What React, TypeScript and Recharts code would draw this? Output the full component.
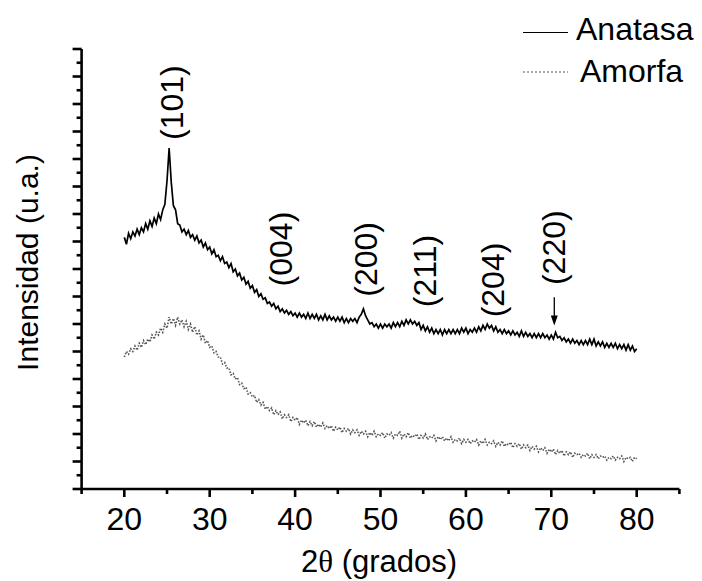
import { LineChart, Line, XAxis, YAxis, ReferenceDot, ReferenceLine, Legend } from 'recharts'

const FONT = '"Liberation Sans", Arial, sans-serif'

// 2θ sampling grid of the two scans
const START_ANGLE = 20
const STEP = 0.25

// Anatasa scan, every 0.25° from 20° to 80°
const anatasa = [
  18.3, 17.8, 18.6, 18.2, 18.7, 18.4, 18.9, 18.5, 19.0, 18.7, 19.3, 18.9,
  19.5, 19.1, 19.7, 19.3, 20.0, 19.6, 20.3, 20.7, 22.4, 24.8, 22.3, 20.6,
  20.3, 19.3, 19.2, 18.7, 18.9, 18.5, 18.8, 18.3, 18.5, 18.1, 18.4, 17.9,
  18.1, 17.6, 17.9, 17.4, 17.6, 17.1, 17.4, 16.9, 17.0, 16.6, 16.9, 16.4,
  16.5, 16.1, 16.4, 15.8, 16.0, 15.5, 15.7, 15.2, 15.4, 14.9, 15.1, 14.6,
  14.8, 14.3, 14.5, 14.0, 14.2, 13.8, 13.9, 13.5, 13.6, 13.3, 13.5, 13.1,
  13.3, 12.9, 13.1, 12.8, 13.0, 12.7, 12.9, 12.6, 12.8, 12.5, 12.8, 12.5,
  12.7, 12.4, 12.8, 12.4, 12.7, 12.4, 12.7, 12.3, 12.6, 12.3, 12.7, 12.3,
  12.6, 12.3, 12.5, 12.2, 12.5, 12.2, 12.5, 12.1, 12.4, 12.1, 12.4, 12.2,
  12.4, 12.1, 12.5, 12.7, 13.1, 12.6, 12.3, 12.0, 12.1, 11.8, 12.0, 11.7,
  12.0, 11.7, 12.0, 11.8, 12.0, 11.7, 12.1, 11.8, 12.1, 11.8, 12.2, 11.9,
  12.3, 12.0, 12.3, 12.0, 12.2, 11.9, 12.1, 11.6, 11.9, 11.5, 11.8, 11.4,
  11.7, 11.3, 11.6, 11.3, 11.6, 11.2, 11.6, 11.3, 11.6, 11.3, 11.6, 11.3,
  11.6, 11.3, 11.7, 11.4, 11.7, 11.3, 11.6, 11.4, 11.7, 11.4, 11.8, 11.5,
  11.9, 11.6, 12.0, 11.7, 11.9, 11.5, 11.8, 11.4, 11.6, 11.3, 11.6, 11.3,
  11.5, 11.2, 11.5, 11.2, 11.4, 11.1, 11.5, 11.1, 11.4, 11.1, 11.3, 11.0,
  11.3, 11.0, 11.3, 11.0, 11.3, 11.0, 11.2, 10.9, 11.2, 10.9, 11.4, 11.0,
  11.1, 10.8, 11.0, 10.7, 10.9, 10.6, 10.9, 10.6, 10.8, 10.5, 10.8, 10.5,
  10.8, 10.5, 10.9, 10.5, 10.9, 10.4, 10.7, 10.4, 10.7, 10.3, 10.6, 10.3,
  10.6, 10.3, 10.6, 10.2, 10.5, 10.2, 10.5, 10.1, 10.5, 10.1, 10.4, 10.0,
  10.2,
]

// Amorfa scan, same grid
const amorfa = [
  9.6, 10.0, 9.8, 10.2, 10.0, 10.4, 10.1, 10.6, 10.3, 10.8, 10.5, 10.9,
  10.7, 11.2, 10.9, 11.4, 11.2, 11.7, 11.4, 12.0, 11.7, 12.5, 12.0, 12.4,
  11.9, 12.5, 12.0, 12.3, 11.8, 12.2, 11.6, 12.0, 11.4, 11.8, 11.2, 11.5,
  10.9, 11.2, 10.6, 10.8, 10.3, 10.4, 9.9, 10.0, 9.6, 9.6, 9.1, 9.2,
  8.8, 8.8, 8.3, 8.4, 8.0, 8.1, 7.6, 7.7, 7.3, 7.4, 6.9, 7.0,
  6.7, 6.8, 6.3, 6.5, 6.1, 6.3, 5.8, 6.0, 5.7, 5.9, 5.4, 5.7,
  5.4, 5.6, 5.1, 5.4, 5.2, 5.4, 4.9, 5.2, 5.0, 5.2, 4.7, 5.0,
  4.8, 5.0, 4.6, 4.9, 4.6, 4.9, 4.5, 4.7, 4.5, 4.8, 4.4, 4.6,
  4.4, 4.6, 4.2, 4.5, 4.3, 4.5, 4.1, 4.4, 4.2, 4.4, 4.0, 4.3,
  4.1, 4.3, 3.9, 4.2, 4.0, 4.2, 3.8, 4.1, 3.9, 4.2, 3.8, 4.0,
  3.9, 4.1, 3.7, 4.0, 3.9, 4.1, 3.7, 4.0, 3.9, 4.2, 3.7, 4.0,
  3.8, 4.1, 3.7, 3.9, 3.8, 4.0, 3.6, 3.9, 3.7, 4.0, 3.6, 3.8,
  3.7, 3.9, 3.5, 3.8, 3.6, 3.8, 3.5, 3.7, 3.5, 3.8, 3.4, 3.6,
  3.5, 3.7, 3.3, 3.6, 3.4, 3.6, 3.3, 3.5, 3.4, 3.6, 3.2, 3.5,
  3.3, 3.6, 3.2, 3.4, 3.3, 3.5, 3.1, 3.4, 3.2, 3.5, 3.1, 3.3,
  3.2, 3.4, 3.0, 3.3, 3.1, 3.3, 2.9, 3.2, 3.0, 3.2, 2.8, 3.1,
  2.9, 3.1, 2.7, 3.0, 2.8, 3.0, 2.6, 2.9, 2.7, 2.9, 2.5, 2.8,
  2.6, 2.8, 2.4, 2.7, 2.5, 2.7, 2.3, 2.6, 2.5, 2.6, 2.3, 2.5,
  2.4, 2.6, 2.2, 2.5, 2.3, 2.5, 2.2, 2.4, 2.3, 2.4, 2.1, 2.3,
  2.2, 2.4, 2.1, 2.3, 2.2, 2.4, 2.0, 2.3, 2.2, 2.3, 2.0, 2.3,
  2.2,
]

const xTicks = [15, 20, 25, 30, 35, 40, 45, 50, 55, 60, 65, 70, 75, 80, 85]
const xLabels = [20, 30, 40, 50, 60, 70, 80]
const yTicks = Array.from({ length: 33 }, (_, i) => i)

// Miller index labels (centre of the rotated text, in data units)
const peaks = [
  { hkl: '(101)', x: 25.6, y: 28.1 },
  { hkl: '(004)', x: 38.3, y: 17.45 },
  { hkl: '(200)', x: 48.3, y: 16.7 },
  { hkl: '(211)', x: 55.2, y: 15.85 },
  { hkl: '(204)', x: 63.2, y: 15.2 },
  { hkl: '(220)', x: 70.35, y: 17.55 },
]
const arrow = { x: 70.35, from: 13.95, to: 11.9 }

const data = anatasa.map((v, i) => ({
  angle: START_ANGLE + i * STEP,
  anatasa: v,
  amorfa: amorfa[i],
}))

function XTick({ x, y, payload }: any) {
  const v = payload.value
  const major = v % 10 === 0
  return (
    <g>
      <line x1={x} y1={y} x2={x} y2={y + (major ? 8 : 5)} stroke="#000" strokeWidth={2.6} />
      {xLabels.includes(v) && (
        <text x={x} y={y + 41} textAnchor="middle" fontSize={32} fontFamily={FONT} fill="#000">
          {v}
        </text>
      )}
    </g>
  )
}

function YTick({ x, y, payload }: any) {
  const major = payload.value % 2 === 0
  return <line x1={x} y1={y} x2={x - (major ? 9 : 5)} y2={y} stroke="#000" strokeWidth={2.6} />
}

function PeakLabel({ cx, cy, text }: any) {
  return (
    <text
      transform={`translate(${cx},${cy}) rotate(-90)`}
      textAnchor="middle"
      dominantBaseline="central"
      fontSize={32}
      fontFamily={FONT}
      fill="#000"
    >
      {text}
    </text>
  )
}

function Arrow({ x1, y1, x2, y2 }: any) {
  return (
    <g>
      <line x1={x1} y1={y1} x2={x2} y2={y2 - 6} stroke="#000" strokeWidth={1.3} />
      <polygon points={`${x2 - 3.5},${y2 - 10} ${x2 + 3.5},${y2 - 10} ${x2},${y2}`} fill="#000" />
    </g>
  )
}

function LegendBox() {
  return (
    <svg width={702} height={100} style={{ display: 'block' }}>
      <line x1={523} y1={32.5} x2={568} y2={32.5} stroke="#000" strokeWidth={1.2} />
      <text x={576} y={39.5} fontSize={32} fontFamily={FONT} fill="#000">Anatasa</text>
      <line x1={523} y1={72} x2={568} y2={72} stroke="#555" strokeWidth={1.2} strokeDasharray="2 2" />
      <text x={580} y={81.5} fontSize={32} fontFamily={FONT} fill="#000">Amorfa</text>
    </svg>
  )
}

export default function App() {
  return (
    <div style={{ position: 'absolute', left: 0, top: 0, background: '#fff' }}>
      <LineChart width={702} height={581} data={data} margin={{ top: 49, right: 22.6, bottom: 0, left: 21.6 }}>
        <XAxis
          dataKey="angle"
          type="number"
          domain={[15, 85]}
          ticks={xTicks}
          interval={0}
          height={92}
          tickSize={0}
          tickMargin={0}
          tickLine={false}
          tick={<XTick />}
          axisLine={{ stroke: '#000', strokeWidth: 2.6 }}
          label={() => (
            <text x={379} y={572} textAnchor="middle" fontSize={31} fontFamily={FONT} fill="#000">
              2<tspan fontFamily='"Liberation Serif", serif'>θ</tspan> (grados)
            </text>
          )}
        />
        <YAxis
          type="number"
          domain={[0, 32]}
          ticks={yTicks}
          interval={0}
          width={60}
          tickSize={0}
          tickMargin={0}
          tickLine={false}
          tick={<YTick />}
          axisLine={{ stroke: '#000', strokeWidth: 2.6 }}
          label={() => (
            <text
              transform="translate(27,262.5) rotate(-90)"
              textAnchor="middle"
              dominantBaseline="central"
              fontSize={30}
              fontFamily={FONT}
              fill="#000"
            >
              Intensidad (u.a.)
            </text>
          )}
        />
        <Legend
          layout="horizontal"
          verticalAlign="middle"
          align="center"
          wrapperStyle={{ left: 0, top: 0, width: 702, height: 100 }}
          content={() => <LegendBox />}
        />
        <Line
          dataKey="amorfa"
          stroke="#555"
          strokeWidth={1.6}
          strokeDasharray="1.5 1.5"
          dot={false}
          isAnimationActive={false}
        />
        <Line dataKey="anatasa" stroke="#000" strokeWidth={1.7} dot={false} isAnimationActive={false} />
        {peaks.map((p) => (
          <ReferenceDot
            key={p.hkl}
            x={p.x}
            y={p.y}
            r={1}
            shape={(props: any) => <PeakLabel cx={props.cx} cy={props.cy} text={p.hkl} />}
          />
        ))}
        <ReferenceLine
          segment={[
            { x: arrow.x, y: arrow.from },
            { x: arrow.x, y: arrow.to },
          ]}
          shape={(props: any) => <Arrow {...props} />}
        />
      </LineChart>
    </div>
  )
}
